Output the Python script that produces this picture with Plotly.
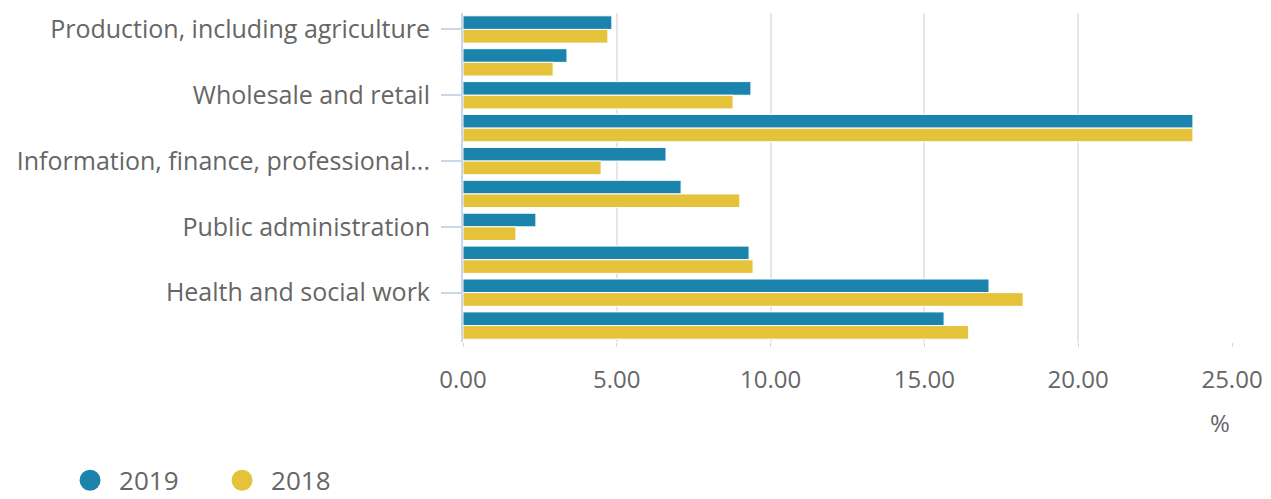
import plotly.graph_objects as go

categories = [
    "Production, including agriculture",
    "Construction",
    "Wholesale and retail",
    "Transport, accommodation and food",
    "Information, finance, professional...",
    "Administrative and support services",
    "Public administration",
    "Education",
    "Health and social work",
    "Other services",
]
labeled = [
    "Production, including agriculture",
    "Wholesale and retail",
    "Information, finance, professional...",
    "Public administration",
    "Health and social work",
]
values_2019 = [4.84, 3.38, 9.36, 23.73, 6.60, 7.09, 2.37, 9.30, 17.10, 15.64]
values_2018 = [4.71, 2.93, 8.78, 23.73, 4.49, 9.00, 1.72, 9.43, 18.21, 16.44]
x_ticks = [0, 5, 10, 15, 20, 25]

BLUE = "#1b84ac"
YELLOW = "#e4c33a"
FONT = "Open Sans"
TXT = "#666666"

fig = go.Figure()
fig.add_trace(go.Bar(y=categories, x=values_2019, orientation="h", name="2019",
                     marker=dict(color=BLUE, line=dict(color="white", width=1)),
                     showlegend=False))
fig.add_trace(go.Bar(y=categories, x=values_2018, orientation="h", name="2018",
                     marker=dict(color=YELLOW, line=dict(color="white", width=1)),
                     showlegend=False))
# legend entries with round symbols
for name, col in [("2019", BLUE), ("2018", YELLOW)]:
    fig.add_trace(go.Scatter(x=[None], y=[None], mode="markers", name=name,
                             marker=dict(color=col, size=16, symbol="circle",
                                         line=dict(color=col, width=5))))

fig.update_layout(
    width=1263, height=491,
    margin=dict(l=455, r=39, t=5, b=157),
    paper_bgcolor="white", plot_bgcolor="white",
    font=dict(family=FONT, size=24, color=TXT),
    barmode="group", bargap=0.17, bargroupgap=0.0,
    showlegend=True,
    legend=dict(orientation="h", xref="container", yref="container",
                x=0.042, y=0.038, xanchor="left", yanchor="middle",
                font=dict(family=FONT, size=26, color=TXT),
                entrywidth=89, entrywidthmode="pixels", itemwidth=48,
                itemsizing="trace", traceorder="normal"),
    annotations=[dict(text="%", xref="paper", yref="paper", x=1, y=-0.245,
                      xanchor="right", yanchor="middle", showarrow=False,
                      font=dict(family=FONT, size=24, color=TXT))],
)
fig.update_xaxes(range=[0, 25], tickvals=x_ticks, tickformat=".2f",
                 showgrid=True, gridcolor="#e6e6e6", gridwidth=2,
                 zeroline=False, showline=False, automargin=False,
                 ticks="outside", ticklen=4, tickcolor="#ccd6eb",
                 ticklabelstandoff=12, tickfont=dict(size=24))
fig.update_yaxes(categoryorder="array", categoryarray=categories,
                 autorange="reversed", tickmode="array", tickvals=labeled,
                 ticktext=labeled, showgrid=False, showline=True,
                 linecolor="#ccd6eb", linewidth=2, automargin=False,
                 ticks="outside", ticklen=20, tickcolor="#ccd6eb", tickwidth=2,
                 ticklabelstandoff=6, tickfont=dict(size=25))

fig.write_html("out.html")
